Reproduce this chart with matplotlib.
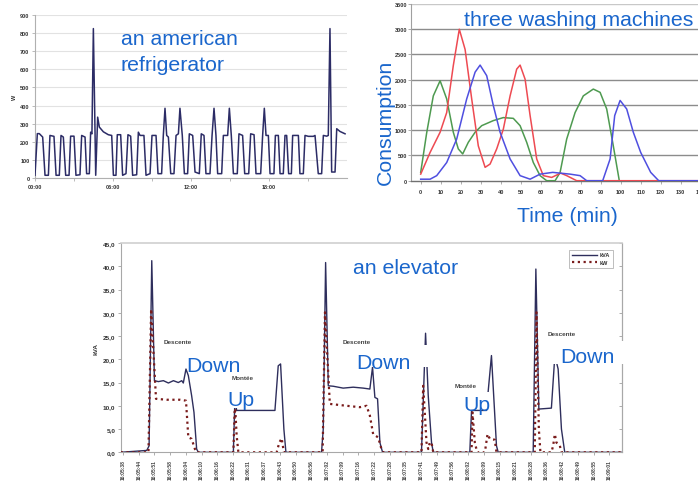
import matplotlib
matplotlib.use('Agg')
import matplotlib.pyplot as plt
import matplotlib.patches as mpatches

plt.rcParams['font.family'] = ['Liberation Sans', 'DejaVu Sans']

W, H = 698, 485
def fx(px):
    return px / W
def fy(py):
    return 1 - py / H

# ---------------- refrigerator (hours, W) ----------------
fridge_hours = [0.00, 0.18, 0.33, 0.59, 0.77, 1.03, 1.15, 1.46, 1.62, 1.87, 2.00, 2.18, 2.36, 2.62,
                2.74, 3.00, 3.15, 3.46, 3.59, 3.85, 3.97, 4.18, 4.28, 4.38, 4.49, 4.67, 4.82, 4.95,
                5.26, 5.64, 5.90, 6.03, 6.23, 6.33, 6.59, 6.74, 7.00, 7.15, 7.36, 7.51, 7.82, 7.95,
                8.08, 8.38, 8.54, 8.85, 9.00, 9.31, 9.46, 9.74, 9.87, 10.00, 10.13, 10.26, 10.44,
                10.69, 10.85, 11.03, 11.15, 11.33, 11.49, 11.74, 11.87, 12.13, 12.31, 12.64, 12.79,
                13.00, 13.15, 13.46, 13.62, 13.77, 13.92, 14.05, 14.36, 14.49, 14.82, 14.95, 15.10,
                15.26, 15.56, 15.69, 15.97, 16.13, 16.44, 16.59, 16.85, 17.00, 17.36, 17.51, 17.64,
                17.77, 17.95, 18.08, 18.38, 18.49, 18.72, 18.85, 19.10, 19.23, 19.36, 19.51, 19.72,
                19.82, 20.26, 20.38, 20.64, 20.77, 21.03, 21.41, 21.54, 21.79, 22.05, 22.18, 22.44,
                22.56, 22.69, 22.82, 23.08, 23.21, 23.46, 23.85]
fridge_watts = [15, 245, 245, 226, 15, 15, 235, 230, 15, 15, 235, 226, 15, 15,
                231, 231, 15, 18, 235, 226, 24, 24, 253, 244, 825, 15, 336, 281,
                255, 239, 235, 15, 15, 239, 239, 15, 24, 239, 231, 15, 18, 253,
                235, 235, 15, 24, 235, 235, 24, 24, 235, 385, 235, 226, 24,
                24, 235, 244, 385, 235, 24, 24, 244, 235, 33, 24, 244,
                235, 24, 24, 235, 385, 235, 24, 24, 235, 235, 385, 235,
                24, 24, 244, 235, 24, 24, 244, 239, 24, 24, 235, 385,
                235, 235, 24, 24, 235, 235, 24, 24, 235, 235, 24, 24,
                235, 235, 24, 24, 235, 230, 230, 235, 24, 24, 235, 231,
                235, 825, 33, 33, 272, 257, 244]
fridge_ticks = [0, 6, 12, 18]
fridge_tick_labels = ['00:00', '06:00', '12:00', '18:00']
fridge_yticks = [0, 100, 200, 300, 400, 500, 600, 700, 800, 900]

# ---------------- washing machines (min, W) ----------------
green_t = [0, 3, 6.3, 9.7, 13, 16.3, 18.8, 21, 23.8, 27.2, 30.5, 36.3, 41.3, 46.3, 49.7, 53,
           56.3, 59.7, 63, 67.2, 69.7, 73, 77.2, 81.3, 86.3, 89.7, 93, 96.3, 99.3]
green_w = [165, 950, 1680, 1980, 1620, 960, 630, 530, 760, 960, 1090, 1190, 1250, 1235, 1090, 760,
           360, 100, 0, 0, 165, 825, 1350, 1680, 1815, 1750, 1420, 690, 0]
red_t = [0, 4.7, 9.7, 13, 16.3, 19.3, 22.2, 25.5, 28.8, 32.2, 34.7, 38, 41.3, 44.7, 48, 49.7,
         52.2, 54.7, 58, 61.3, 65.5, 70, 73, 78, 145]
red_w = [130, 560, 960, 1350, 2280, 3000, 2600, 1620, 690, 265, 330, 630, 1020, 1680, 2210, 2290,
         2010, 1290, 430, 100, 65, 150, 100, 0, 0]
blue_t = [0, 4.7, 8, 13, 18, 23, 27.2, 29.7, 33, 36.3, 39.7, 44.7, 49.7, 54.7, 59.7, 66, 74.7,
          79.7, 83, 91, 94.7, 97, 99.7, 103, 106.3, 110, 115, 119, 145]
blue_w = [30, 30, 100, 360, 825, 1620, 2150, 2290, 2080, 1490, 960, 430, 100, 30, 130, 165, 130,
          100, 0, 0, 430, 1290, 1590, 1420, 960, 560, 165, 0, 0]
wash_xticks = [0, 10, 20, 30, 40, 50, 60, 70, 80, 90, 100, 110, 120, 130, 140]
wash_yticks = [0, 500, 1000, 1500, 2000, 2500, 3000, 3500]

# ---------------- elevator ----------------
elev_labels = ['16:05:38', '16:05:44', '16:05:51', '16:05:58', '16:06:04', '16:06:10', '16:06:16',
               '16:06:22', '16:06:31', '16:06:37', '16:06:43', '16:06:50', '16:06:56', '16:07:02',
               '16:07:09', '16:07:16', '16:07:22', '16:07:28', '16:07:35', '16:07:41', '16:07:49',
               '16:07:56', '16:08:02', '16:08:09', '16:08:15', '16:08:21', '16:08:28', '16:08:36',
               '16:08:42', '16:08:49', '16:08:55', '16:09:01']
kva_x = [-0.15, 1.51, 1.66, 1.83, 2.00, 2.25, 2.57, 2.89, 3.21, 3.52, 3.74, 3.84, 4.01, 4.16, 4.37,
         4.52, 4.69, 4.80, 7.03, 7.13, 7.24, 9.68, 9.89, 10.04, 10.25, 10.38, 12.65, 12.76, 12.91,
         13.08, 13.40, 14.03, 14.67, 15.31, 15.73, 15.90, 16.05, 16.22, 16.37, 16.54, 19.02, 19.28,
         19.45, 19.66, 19.77, 22.10, 22.21, 23.16, 23.48, 23.80, 23.91, 26.14, 26.31, 26.50, 27.30,
         27.52, 27.73, 27.94, 28.15, 31.8]
kva_y = [0, 0.4, 1.4, 41.2, 15.4, 15.2, 15.4, 14.9, 15.4, 15.0, 15.4, 14.9, 17.9, 16.5, 12.2,
         8.6, 0.7, 0, 0, 11.5, 9.0, 9.0, 18.6, 19.0, 5.0, 0, 0, 5.0, 40.8,
         14.3, 14.2, 13.8, 14.0, 13.8, 13.6, 18.3, 11.8, 11.5, 2.1, 0, 0, 25.6,
         12.2, 2.1, 0, 0, 9.0, 9.0, 20.8, 1.4, 0, 0, 39.4, 9.3, 9.5,
         20.8, 17.9, 5.0, 0, 0]
kw_x = [-0.15, 1.62, 1.79, 2.10, 2.78, 3.63, 4.01, 4.16, 4.37, 4.58, 4.69, 7.03, 7.13, 7.24, 7.35,
        9.79, 9.96, 10.11, 10.25, 12.72, 12.87, 13.18, 14.25, 15.09, 15.52, 15.73, 15.94, 16.26,
        16.47, 16.58, 19.02, 19.13, 19.34, 19.45, 19.55, 19.66, 19.77, 22.21, 22.27, 22.42, 22.57,
        23.06, 23.23, 23.38, 23.69, 23.80, 26.24, 26.35, 26.50, 26.60, 27.30, 27.41, 27.52, 27.62,
        27.84, 27.94, 31.8]
kw_y = [0, 0, 30.8, 11.5, 11.3, 11.3, 11.1, 3.2, 2.9, 0.7, 0, 0, 10.7, 3.6, 0,
        0, 2.1, 3.0, 0, 0, 30.1, 10.4, 10.0, 9.7, 10.0, 7.9, 3.9, 3.2,
        0.7, 0, 0, 14.3, 2.1, 0.7, 2.1, 2.1, 0, 0, 8.6, 2.1, 0,
        0, 3.9, 2.9, 2.7, 0, 0, 30.1, 5.0, 0, 0, 1.4, 3.9, 2.1,
        1.4, 0, 0]
elev_yticks = [0, 5, 10, 15, 20, 25, 30, 35, 40, 45]

BLUE = '#1a66cc'
TICKC = '#333333'

fig = plt.figure(figsize=(6.98, 4.85), dpi=100)
fig.patch.set_facecolor('white')

# ---- refrigerator axes ----
ax1 = fig.add_axes([fx(35), fy(179), (347 - 35) / W, (179 - 16) / H])
ax1.plot(fridge_hours, fridge_watts, color='#2c2c66', lw=1.1, zorder=3)
ax1.set_xlim(0, 24)
ax1.set_ylim(0, 900)
ax1.set_yticks(fridge_yticks)
ax1.set_xticks(fridge_ticks)
ax1.set_xticklabels(fridge_tick_labels)
ax1.set_xticks([3, 9, 15, 21], minor=True)
ax1.grid(axis='y', color='#e2e2e2', lw=0.8, zorder=0)
for s in ['top', 'right']:
    ax1.spines[s].set_visible(False)
for s in ['left', 'bottom']:
    ax1.spines[s].set_color('#b0b0b0')
    ax1.spines[s].set_linewidth(0.8)
ax1.tick_params(axis='both', labelsize=4, colors='#b0b0b0', labelcolor=TICKC, length=2, width=0.6, pad=2)
ax1.tick_params(axis='x', which='minor', length=2, width=0.6, colors='#b0b0b0')
for lab in ax1.get_xticklabels() + ax1.get_yticklabels():
    lab.set_fontweight('bold')
ax1.set_ylabel('W', fontsize=4, fontweight='bold', color=TICKC, labelpad=2)

# ---- washing machines axes ----
ax2 = fig.add_axes([fx(410.7), fy(181.7), (710.7 - 410.7) / W, (181.7 - 5) / H])
ax2.plot(green_t, green_w, color='#4e9a50', lw=1.1, zorder=3)
ax2.plot(red_t, red_w, color='#ee4a52', lw=1.1, zorder=3)
ax2.plot(blue_t, blue_w, color='#4f4fe0', lw=1.1, zorder=3)
ax2.set_xlim(-5, 145)
ax2.set_ylim(0, 3500)
ax2.set_xticks(wash_xticks)
ax2.set_yticks(wash_yticks)
for v in wash_yticks[1:-1]:
    ax2.axhline(v, color='#8c8c8c', lw=1.0, zorder=1)
ax2.axhline(3500, color='#c8c8c8', lw=1.0, zorder=1)
for s in ['top', 'right']:
    ax2.spines[s].set_visible(False)
ax2.spines['left'].set_color('#a0a0a0')
ax2.spines['bottom'].set_color('#707070')
ax2.spines['left'].set_linewidth(0.8)
ax2.spines['bottom'].set_linewidth(1.0)
ax2.tick_params(axis='y', labelsize=4, colors='#a0a0a0', labelcolor=TICKC, length=2, width=0.6, pad=0.5)
ax2.tick_params(axis='x', labelsize=4, colors='#a0a0a0', labelcolor=TICKC, length=2, width=0.6, pad=4)
for lab in ax2.get_xticklabels() + ax2.get_yticklabels():
    lab.set_fontweight('bold')

# ---- elevator axes ----
ax3 = fig.add_axes([fx(120.7), fy(453.3), 501.3 / W, 209.3 / H])
ax3.plot(kva_x, kva_y, color='#2e2e5c', lw=1.0, label='kVA', zorder=3)
ax3.plot(kw_x, kw_y, color='#7a1c1c', lw=1.6, linestyle=(0, (1, 1.6)), label='kW', zorder=3)
ax3.set_xlim(-0.15, 31.8)
ax3.set_ylim(0, 45)
ax3.set_xticks(range(len(elev_labels)))
ax3.set_xticklabels(elev_labels, rotation=90)
ax3.set_yticks(elev_yticks)
ax3.set_yticklabels([('%.1f' % v).replace('.', ',') for v in elev_yticks])
for s in ax3.spines.values():
    s.set_color('#a8a8a8')
    s.set_linewidth(0.8)
ax3.spines['top'].set_color('#d0d0d0')
ax3.spines['top'].set_linewidth(1.2)
ax3.tick_params(axis='y', labelsize=4.6, colors='#a0a0a0', labelcolor=TICKC, length=2, width=0.6, pad=2)
ax3.tick_params(axis='x', labelsize=3.6, colors='#a0a0a0', labelcolor='#444444', length=2, width=0.6, pad=3)
for lab in ax3.get_yticklabels():
    lab.set_fontweight('bold')
for lab in ax3.get_xticklabels():
    lab.set_fontweight('bold')
ax3r = ax3.secondary_yaxis('right')
ax3r.set_yticks(elev_yticks)
ax3r.tick_params(direction='in', length=2, width=0.6, colors='#a0a0a0', labelright=False)
ax3r.spines['right'].set_color('#a8a8a8')
ax3.set_ylabel('kVA', fontsize=4.6, fontweight='bold', color=TICKC, labelpad=3)
leg = ax3.legend(loc='upper right', bbox_to_anchor=(0.982, 0.968), borderaxespad=0,
                 fontsize=4, frameon=True, fancybox=False, handlelength=4.5, handletextpad=0.5,
                 borderpad=0.5, labelspacing=0.5)
leg.get_frame().set_edgecolor('#a0a0a0')
leg.get_frame().set_linewidth(0.6)
for t in leg.get_texts():
    t.set_fontweight('bold')
    t.set_color(TICKC)

# small annotations
ann = [('Descente', 3.5, 23.9), ('Descente', 14.9, 23.9), ('Descente', 27.96, 25.6),
       ('Montée', 7.64, 16.0), ('Montée', 21.83, 14.4)]
for txt, x, y in ann:
    ax3.text(x, y, txt, fontsize=4.6, fontweight='bold', color='#444444', ha='center', va='center', zorder=4)

# white boxes behind overlay labels
boxes = [(187, 347, 245, 370), (352, 346, 437, 368), (553, 341.7, 624, 365),
         (226, 389, 256, 409), (461, 393, 492, 410)]
for x0, y0, x1, y1 in boxes:
    fig.patches.append(mpatches.Rectangle((fx(x0), fy(y1)), (x1 - x0) / W, (y1 - y0) / H,
                                          transform=fig.transFigure, facecolor='white',
                                          edgecolor='none', zorder=5))

# blue overlay texts
FS = 15.3
overlay = [('an american', 121, 45), ('refrigerator', 121, 70.7), ('three washing machines', 464.3, 26),
           ('Time (min)', 516.7, 222), ('an elevator', 353, 274), ('Down', 186.7, 371.5),
           ('Down', 356.7, 369.5), ('Down', 560, 363.3), ('Up', 227.7, 405.7), ('Up', 463.3, 411)]
for txt, x, y in overlay:
    fig.text(fx(x), fy(y), txt, fontsize=FS, color=BLUE, ha='left', va='baseline', zorder=10)
fig.text(fx(385), fy(122), 'Consumption', fontsize=FS, color=BLUE, rotation=90,
         ha='center', va='center', zorder=10)

fig.savefig('out.png', dpi=100, facecolor='white')
